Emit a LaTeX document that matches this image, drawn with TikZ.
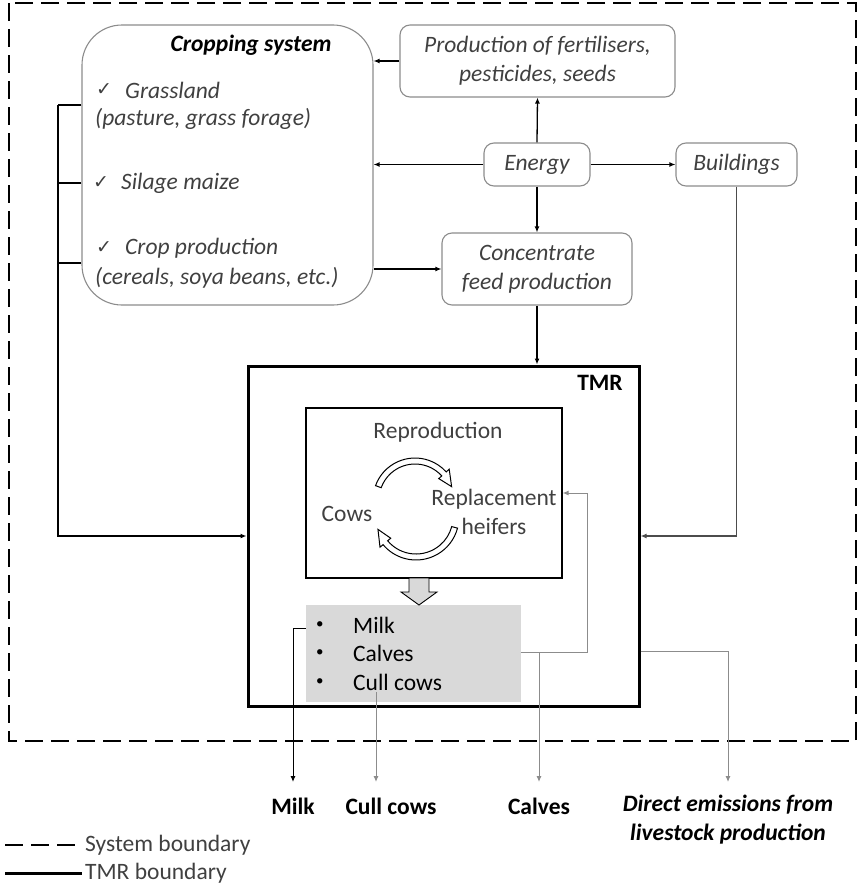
\documentclass[tikz,border=0pt]{standalone}
\usepackage{fontspec}
\setmainfont{Carlito}
\newfontfamily\symfont{DejaVu Sans}
\usetikzlibrary{arrows.meta}
\definecolor{txtgray}{HTML}{404040}
\definecolor{boxgray}{HTML}{8C8C8C}
\definecolor{lngray}{HTML}{8C8C8C}
\definecolor{fillgray}{HTML}{D9D9D9}
\begin{document}
\begin{tikzpicture}[x=1pt,y=-1pt,
  font=\fontsize{23.5}{29}\selectfont,
  rbox/.style={draw=boxgray, line width=1.1pt, rounded corners=10pt, inner sep=0pt, text=txtgray, font=\fontsize{23.5}{29}\selectfont\itshape, align=center},
  arr/.style={line width=1.3pt, -{Latex[length=6pt,width=5pt]}},
  ln/.style={line width=1.3pt},
  garr/.style={draw=lngray, line width=1pt, -{Latex[length=6pt,width=5pt]}},
  itxt/.style={anchor=west, inner sep=0pt, text=txtgray, font=\fontsize{23.5}{29}\selectfont\itshape},
  chk/.style={anchor=west, inner sep=0pt, text=txtgray, font=\symfont\fontsize{19}{22}\selectfont},
  btxt/.style={anchor=west, inner sep=0pt, text=black},
  bul/.style={anchor=west, inner sep=0pt, text=black, font=\fontsize{15}{18}\selectfont},
  lbl/.style={inner sep=0pt, text=black, font=\fontsize{23.5}{29}\selectfont\bfseries, align=center},
  blockarr/.style={draw=black, line width=1pt, fill=white}
]
\useasboundingbox (0,0) rectangle (858,886);

% system boundary
\draw[line width=2.5pt, dash pattern=on 18pt off 8pt] (9,3) rectangle (856,741);

% boxes
\node[draw=boxgray, line width=1.1pt, rounded corners=40pt, minimum width=291pt, minimum height=280pt, inner sep=0pt] (crop) at (227.5,165) {};
\node[rbox, minimum width=275pt, minimum height=72pt] (fert) at (537.5,61) {Production of fertilisers,\\pesticides, seeds};
\node[rbox, minimum width=106pt, minimum height=43pt] (energy) at (537,164.5) {Energy};
\node[rbox, minimum width=121pt, minimum height=43pt] (build) at (736.5,164.5) {Buildings};
\node[rbox, minimum width=190pt, minimum height=72pt] (conc) at (537,269) {Concentrate\\feed production};
\node[draw=black, line width=3pt, minimum width=391pt, minimum height=340pt, inner sep=0pt] (tmr) at (443.5,536) {};
\node[draw=black, line width=1.1pt, minimum width=256pt, minimum height=170pt, inner sep=0pt] (repro) at (434,493) {};
\node[fill=fillgray, minimum width=215pt, minimum height=97pt, inner sep=0pt] (out) at (413.5,653.5) {};

% cropping system text
\node[lbl, font=\fontsize{23.5}{29}\selectfont\bfseries\itshape] (cstitle) at (251,45) {Cropping system};
\node[chk] (c1) at (96,90) {✓};
\node[itxt] (grass) at (125,90) {Grassland};
\node[itxt] (grass2) at (95,119) {(pasture, grass forage)};
\node[chk] (c2) at (93,183) {✓};
\node[itxt] (silage) at (121,183) {Silage maize};
\node[chk] (c3) at (96,248) {✓};
\node[itxt] (cropp) at (125,248) {Crop production};
\node[itxt] (cropp2) at (95,278) {(cereals, soya beans, etc.)};

% TMR contents
\node[lbl] (tmrlbl) at (600,383) {TMR};
\node[inner sep=0pt, text=txtgray] (reprolbl) at (438,432) {Reproduction};
\node[inner sep=0pt, text=txtgray] (cows) at (347,514) {Cows};
\node[inner sep=0pt, text=txtgray, align=center] (heif) at (494,512) {Replacement\\heifers};

% circular block arrows
\begin{scope}[shift={(415,500)}]
\draw[blockarr] (200:42) arc[start angle=200,end angle=318,radius=42] -- (318:46) -- (340:39) -- (318:32) -- (318:36) arc[start angle=318,end angle=200,radius=36] -- cycle;
\end{scope}
\begin{scope}[shift={(416,517)}]
\draw[blockarr] (15:43) arc[start angle=15,end angle=140,radius=43] -- (140:47) -- (162:40) -- (140:33) -- (140:37) arc[start angle=140,end angle=15,radius=37] -- cycle;
\end{scope}

% down block arrow
\draw[draw=black, line width=0.9pt, fill=fillgray] (409,578) -- (429,578) -- (429,592) -- (437,592) -- (419,605) -- (401,592) -- (409,592) -- cycle;

% outputs list
\node[bul] (b1) at (316,625) {\textbullet};
\node[btxt] (milk) at (353,625) {Milk};
\node[bul] (b2) at (316,653) {\textbullet};
\node[btxt] (calves) at (353,653) {Calves};
\node[bul] (b3) at (316,682) {\textbullet};
\node[btxt] (cull) at (353,682) {Cull cows};

% connectors top
\draw[arr] (fert.west) -- (fert.west -| crop.east);
\draw[arr] (energy.west) -- (energy.west -| crop.east);
\draw[arr] (energy.north) -- (fert.south);
\draw[arr] (energy.east) -- (build.west);
\draw[arr] (energy.south) -- (conc.north);
\draw[arr] (conc.west -| crop.east) -- (conc.west);
\draw[arr] (conc.south) -- (conc.south |- tmr.north);

% left bus
\coordinate (s1) at (58,105);
\coordinate (s2) at (58,183);
\coordinate (s3) at (58,263);
\draw[ln] (s1 -| crop.west) -- (s1);
\draw[ln] (s2 -| crop.west) -- (s2);
\draw[ln] (s3 -| crop.west) -- (s3);
\draw[arr] (s1) -- (s1 |- tmr.west) -- (tmr.west);

% buildings
\draw[arr, draw=black!70] (build.south) -- (build.south |- tmr.east) -- (tmr.east);

% outputs
\coordinate (milkend) at (293,782);
\coordinate (cullstart) at (376,692);
\coordinate (cullend) at (376,782);
\coordinate (calvj) at (539,652);
\coordinate (calvend) at (539,782);
\coordinate (calvr) at (587,652);
\coordinate (emj) at (728,651);
\coordinate (emend) at (728,782);

\draw[arr, line width=1pt] (out.west |- 0,628) -- (milkend |- 0,628) -- (milkend);
\draw[garr] (cullstart) -- (cullend);
\draw[garr] (out.east |- calvr) -- (calvr) -- (calvr |- 0,493) -- (repro.east |- 0,493);
\draw[garr] (calvj) -- (calvend);
\draw[garr] (tmr.east |- emj) -- (emj) -- (emend);

% output labels
\node[lbl] (lmilk) at (293,806) {Milk};
\node[lbl] (lcull) at (391,806) {Cull cows};
\node[lbl] (lcalv) at (539,806) {Calves};
\node[lbl, font=\fontsize{23.5}{29}\selectfont\bfseries\itshape] (lemis) at (728,820) {Direct emissions from\\livestock production};

% legend
\coordinate (lg1a) at (5,845);
\coordinate (lg1b) at (82,845);
\coordinate (lg2a) at (5,873);
\coordinate (lg2b) at (82,873);
\draw[line width=2.5pt, dash pattern=on 18pt off 8pt] (lg1a) -- (lg1b);
\draw[line width=3pt] (lg2a) -- (lg2b);
\node[anchor=west, inner sep=0pt, text=txtgray] (leg1) at (85,845) {System boundary};
\node[anchor=west, inner sep=0pt, text=txtgray] (leg2) at (85,873) {TMR boundary};
\end{tikzpicture}
\end{document}
